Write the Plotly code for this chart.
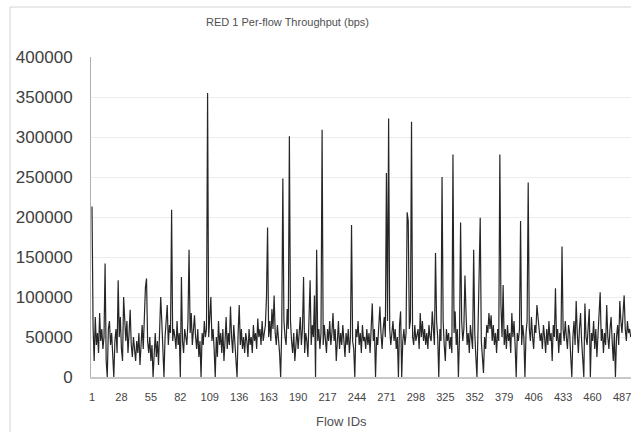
import plotly.graph_objects as go

# Per-flow throughput values (bps), flows 1..495
throughput = [
    213000, 62000, 20000, 75000, 40000, 55000, 30000, 80000, 45000, 60000,
    35000, 50000, 142000, 20000, 0, 60000, 70000, 40000, 55000, 30000,
    0, 45000, 60000, 30000, 121000, 50000, 75000, 35000, 20000, 100000,
    60000, 45000, 70000, 30000, 55000, 84000, 40000, 25000, 50000, 35000,
    20000, 45000, 30000, 55000, 15000, 40000, 65000, 35000, 85000, 112000,
    123000, 45000, 30000, 50000, 20000, 40000, 0, 30000, 55000, 25000,
    45000, 15000, 60000, 100000, 70000, 35000, 0, 50000, 80000, 90000,
    40000, 65000, 55000, 209000, 45000, 60000, 50000, 35000, 70000, 40000,
    55000, 0, 125000, 45000, 30000, 60000, 50000, 40000, 70000, 159000,
    55000, 80000, 40000, 65000, 77000, 50000, 35000, 60000, 25000, 45000,
    0, 55000, 40000, 70000, 50000, 60000, 355000, 50000, 85000, 100000,
    45000, 60000, 35000, 0, 50000, 25000, 70000, 40000, 55000, 30000,
    60000, 20000, 45000, 75000, 35000, 55000, 40000, 88000, 50000, 30000,
    65000, 45000, 25000, 0, 55000, 90000, 40000, 60000, 35000, 50000,
    30000, 55000, 45000, 25000, 60000, 40000, 50000, 30000, 65000, 45000,
    55000, 35000, 73000, 50000, 60000, 40000, 70000, 45000, 55000, 65000,
    100000, 187000, 50000, 70000, 45000, 85000, 60000, 102000, 55000, 40000,
    65000, 50000, 30000, 0, 60000, 248000, 70000, 50000, 40000, 85000,
    60000, 301000, 70000, 45000, 30000, 55000, 20000, 40000, 60000, 35000,
    50000, 75000, 40000, 60000, 125000, 30000, 55000, 45000, 25000, 80000,
    121000, 40000, 65000, 50000, 102000, 0, 159000, 45000, 60000, 35000,
    55000, 309000, 40000, 65000, 50000, 30000, 60000, 45000, 70000, 40000,
    55000, 80000, 45000, 60000, 20000, 50000, 70000, 35000, 55000, 40000,
    65000, 45000, 25000, 55000, 40000, 60000, 30000, 50000, 190000, 45000,
    35000, 0, 60000, 50000, 70000, 40000, 55000, 30000, 65000, 45000,
    50000, 35000, 60000, 40000, 55000, 30000, 70000, 92000, 45000, 60000,
    0, 50000, 40000, 65000, 88000, 55000, 35000, 60000, 75000, 50000,
    255000, 70000, 323000, 60000, 40000, 55000, 70000, 45000, 60000, 35000,
    50000, 0, 65000, 82000, 0, 45000, 60000, 40000, 55000, 206000,
    195000, 60000, 70000, 319000, 50000, 40000, 65000, 45000, 55000, 60000,
    35000, 80000, 50000, 70000, 45000, 60000, 40000, 55000, 35000, 65000,
    50000, 45000, 82000, 60000, 40000, 155000, 70000, 50000, 0, 60000,
    45000, 250000, 70000, 40000, 20000, 60000, 45000, 55000, 35000, 50000,
    30000, 278000, 55000, 82000, 40000, 60000, 0, 50000, 193000, 70000,
    45000, 60000, 127000, 80000, 40000, 55000, 30000, 65000, 45000, 35000,
    159000, 55000, 25000, 0, 60000, 140000, 199000, 45000, 30000, 5000,
    50000, 35000, 65000, 55000, 80000, 60000, 77000, 45000, 65000, 40000,
    55000, 30000, 60000, 45000, 278000, 90000, 50000, 115000, 40000, 60000,
    35000, 65000, 45000, 55000, 30000, 80000, 50000, 70000, 40000, 0,
    55000, 45000, 60000, 195000, 40000, 65000, 50000, 0, 55000, 70000,
    243000, 60000, 45000, 75000, 50000, 35000, 65000, 55000, 90000, 70000,
    60000, 45000, 55000, 35000, 65000, 50000, 30000, 60000, 40000, 70000,
    45000, 55000, 20000, 65000, 50000, 111000, 45000, 60000, 30000, 55000,
    40000, 163000, 60000, 45000, 70000, 50000, 35000, 65000, 55000, 25000,
    0, 50000, 70000, 40000, 95000, 55000, 30000, 60000, 80000, 45000,
    20000, 0, 92000, 50000, 40000, 65000, 85000, 0, 55000, 45000,
    70000, 35000, 60000, 25000, 50000, 75000, 106000, 45000, 60000, 30000,
    55000, 40000, 90000, 50000, 35000, 60000, 75000, 45000, 20000, 55000,
    0, 50000, 65000, 40000, 95000, 70000, 55000, 80000, 102000, 60000,
    45000, 70000, 55000, 60000, 50000,
]
flow_ids = list(range(1, len(throughput) + 1))

x_tick_vals = [1, 28, 55, 82, 109, 136, 163, 190, 217, 244, 271, 298, 325, 352, 379, 406, 433, 460, 487]
x_tick_text = [str(v) for v in x_tick_vals]
y_tick_vals = [0, 50000, 100000, 150000, 200000, 250000, 300000, 350000, 400000]
y_tick_text = [str(v) for v in y_tick_vals]

title_text = "RED 1 Per-flow Throughput (bps)"
x_title = "Flow IDs"

W, H = 631, 432
L, R, T, B = 91, 0, 57, 55
pw, ph = W - L - R, H - T - B

def px_to_paper_x(px):
    return (px - L) / pw

def px_to_paper_y(py):
    return (H - B - py) / ph

fig = go.Figure()
fig.add_trace(go.Scatter(
    x=flow_ids, y=throughput, mode="lines",
    line=dict(color="#262626", width=1.2),
    hoverinfo="skip", showlegend=False,
))

fig.update_layout(
    width=W, height=H,
    margin=dict(l=L, r=R, t=T, b=B),
    paper_bgcolor="white", plot_bgcolor="white",
    font=dict(family="Liberation Sans, Arial, sans-serif", color="#444444"),
    showlegend=False,
)

# last tick label (487) runs off the right edge: draw all but the last via axis
fig.update_xaxes(
    range=[0.083, 0.083 + pw / 1.0905],
    tickmode="array", tickvals=x_tick_vals[:-1], ticktext=x_tick_text[:-1],
    tickfont=dict(size=11, color="#444444"),
    showgrid=False, zeroline=False,
    showline=True, linecolor="#c8c8c8", linewidth=2,
    ticks="", ticklabelstandoff=9,
)
fig.add_annotation(text=x_tick_text[-1], xref="x", yref="paper",
                   x=x_tick_vals[-1], y=px_to_paper_y(397),
                   xanchor="center", yanchor="middle", showarrow=False,
                   font=dict(size=11, color="#444444"))

fig.update_yaxes(
    range=[0, 400000],
    tickmode="array", tickvals=y_tick_vals, ticktext=y_tick_text,
    tickfont=dict(size=17, color="#404040"),
    showgrid=True, gridcolor="#ececec", gridwidth=1,
    zeroline=False,
    showline=True, linecolor="#b0b0b0", linewidth=1,
    ticks="", ticklabelstandoff=14,
)

# chart area border (top and left visible)
fig.add_shape(type="rect", xref="paper", yref="paper",
              x0=px_to_paper_x(10), x1=px_to_paper_x(700),
              y0=px_to_paper_y(520), y1=px_to_paper_y(7),
              line=dict(color="#d4d4d4", width=1), fillcolor="rgba(0,0,0,0)",
              layer="below")

fig.add_annotation(text=title_text, xref="paper", yref="paper",
                   x=px_to_paper_x(287), y=px_to_paper_y(22),
                   xanchor="center", yanchor="middle", showarrow=False,
                   font=dict(size=11, color="#505050"))
fig.add_annotation(text=x_title, xref="paper", yref="paper",
                   x=px_to_paper_x(341), y=px_to_paper_y(421),
                   xanchor="center", yanchor="middle", showarrow=False,
                   font=dict(size=13, color="#505050"))

fig.write_html("out.html")
